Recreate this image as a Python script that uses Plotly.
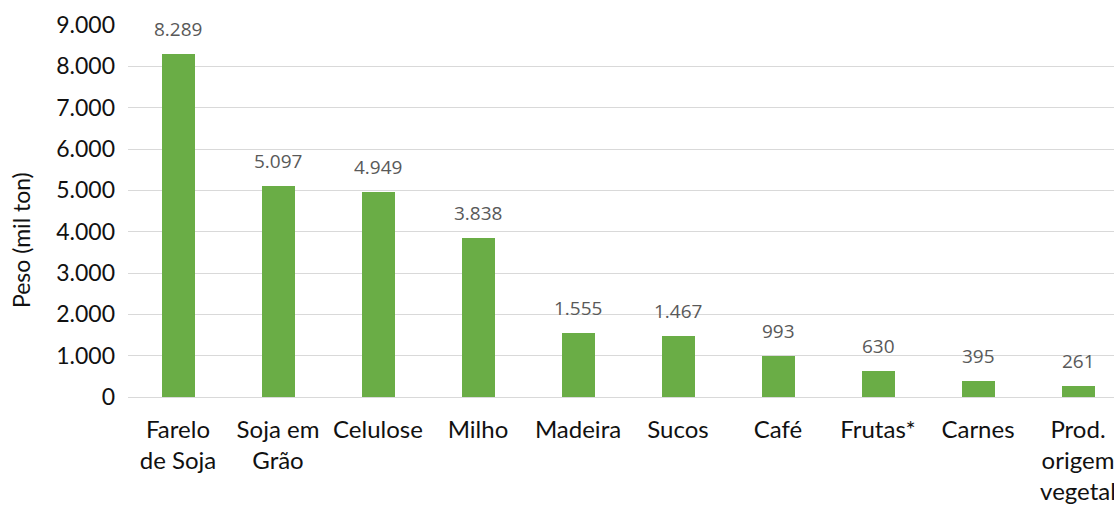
import plotly.graph_objects as go

categories = ["Farelo<br>de Soja", "Soja em<br>Grão", "Celulose", "Milho", "Madeira",
              "Sucos", "Café", "Frutas*", "Carnes", "Prod.<br>origem<br>vegetal"]
values = [8289, 5097, 4949, 3838, 1555, 1467, 993, 630, 395, 261]
y_ticks = [0, 1000, 2000, 3000, 4000, 5000, 6000, 7000, 8000, 9000]

xs = list(range(len(categories)))

fig = go.Figure(go.Bar(
    x=xs, y=values, width=0.33,
    marker=dict(color="#6aad46", line=dict(width=0)),
    cliponaxis=False,
))

for x, v in zip(xs, values):
    fig.add_annotation(
        x=x, y=v, text=f"{v:,d}".replace(",", "."), showarrow=False,
        xanchor="center", yanchor="middle", yshift=25,
        font=dict(family="Open Sans", size=19, color="#595959"),
    )

fig.add_annotation(
    text="Peso (mil ton)", textangle=-90, showarrow=False,
    xref="paper", yref="paper", x=(21 - 128) / 986, y=(397 - 240) / 372,
    xanchor="center", yanchor="middle",
    font=dict(size=23, family="Lato", color="#111"),
)

fig.update_layout(
    width=1114, height=506,
    margin=dict(l=128, r=0, t=25, b=109),
    plot_bgcolor="white", paper_bgcolor="white",
    separators=",.",
    showlegend=False,
    font=dict(family="Lato", color="#000000"),
    xaxis=dict(
        tickmode="array", tickvals=xs, ticktext=categories,
        range=[-0.5, 9.36], showgrid=False, zeroline=False, showline=False,
        tickfont=dict(size=24, family="Lato", color="#111"), ticks="", ticklabelstandoff=16,
        ticklabeloverflow="allow",
        automargin=False,
    ),
    yaxis=dict(
        range=[0, 9000], tickvals=y_ticks, tickformat=",d",
        showgrid=True, gridcolor="#d9d9d9", gridwidth=1,
        zeroline=True, zerolinecolor="#d9d9d9", zerolinewidth=1,
        tickfont=dict(size=23, family="Lato", color="#111"), ticks="",
        ticklabelstandoff=12,
        automargin=False,
    ),
    bargap=0,
)

fig.write_html("out.html")
